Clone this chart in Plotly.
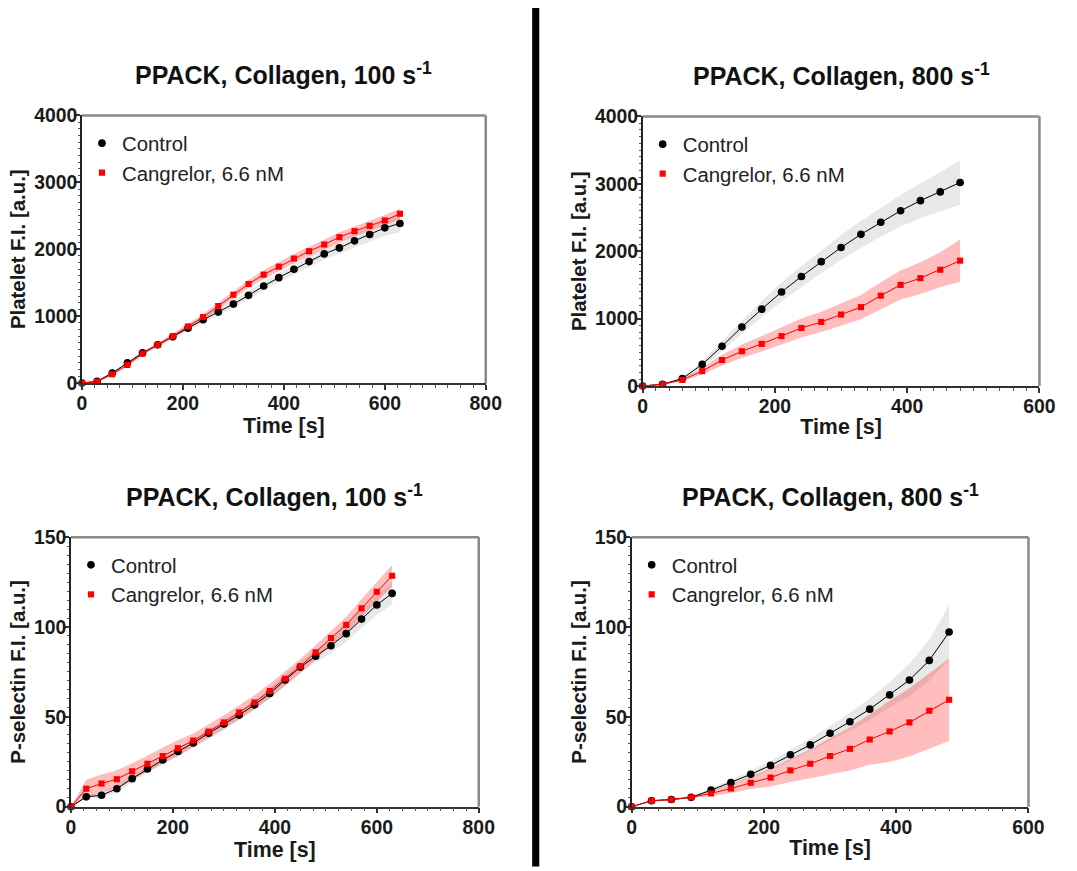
import plotly.graph_objects as go
import numpy as np

# ---------------- data ----------------
t100 = [0, 30, 60, 90, 120, 150, 180, 210, 240, 270, 300, 330, 360, 390, 420, 450, 480, 510, 540, 570, 600, 630]
t800 = [0, 30, 60, 90, 120, 150, 180, 210, 240, 270, 300, 330, 360, 390, 420, 450, 480]

plt100_ctrl = [0, 25, 150, 300, 450, 570, 690, 820, 945, 1060, 1180, 1310, 1450, 1575, 1700, 1815, 1930, 2020, 2125, 2220, 2320, 2385]
plt100_ctrl_sem = [0, 10, 15, 20, 25, 30, 35, 40, 45, 50, 55, 60, 65, 70, 75, 80, 85, 90, 100, 110, 120, 130]
plt100_cang = [0, 20, 130, 270, 440, 570, 700, 845, 985, 1150, 1320, 1480, 1620, 1740, 1860, 1970, 2070, 2180, 2270, 2350, 2430, 2530]
plt100_cang_sem = [0, 10, 15, 20, 25, 30, 35, 40, 45, 50, 55, 60, 65, 70, 70, 70, 70, 75, 75, 75, 80, 80]

plt800_ctrl = [0, 25, 110, 320, 590, 875, 1140, 1395, 1625, 1845, 2055, 2250, 2430, 2600, 2750, 2880, 3020]
plt800_ctrl_sem = [0, 10, 20, 45, 75, 100, 120, 140, 155, 170, 185, 200, 215, 235, 260, 290, 330]
plt800_cang = [0, 25, 90, 220, 385, 515, 625, 740, 860, 950, 1060, 1170, 1340, 1500, 1600, 1725, 1860]
plt800_cang_sem = [0, 10, 20, 50, 80, 100, 115, 130, 140, 150, 165, 180, 200, 215, 235, 260, 315]

ps100_ctrl = [0, 5.5, 6.4, 10, 15.6, 21, 26, 30.7, 35.5, 40.9, 46, 51, 56.7, 63, 70.5, 77.7, 83.7, 89.6, 96.3, 104.4, 112.3, 118.7]
ps100_ctrl_sem = [0, 1, 1.5, 2, 2, 2, 2, 2, 2, 2, 2, 2.5, 2.5, 3, 3, 3, 3.5, 4, 4.5, 5, 5.5, 6]
ps100_cang = [0, 10, 12.9, 15.3, 19.7, 23.9, 28.2, 32.6, 36.8, 41.8, 46.9, 52.5, 58, 64.4, 71.2, 78.2, 85.9, 93.9, 101.2, 110.4, 119.6, 128.5]
ps100_cang_sem = [0, 5, 5, 5, 4.5, 4.5, 4.5, 4.5, 4, 4, 4, 4, 4, 4, 4, 4, 4, 4, 4.5, 5, 5.5, 6]

ps800_ctrl = [0, 3.3, 4, 5.2, 9.2, 13.4, 18, 23, 28.9, 34.4, 40.9, 47.3, 54.3, 62.2, 70.5, 81.4, 97.2]
ps800_ctrl_sem = [0, 0.5, 0.5, 0.7, 1, 1.5, 2, 2.5, 3, 3.5, 4, 5, 6, 7, 9, 11.5, 15]
ps800_cang = [0, 3.3, 4, 5.2, 7.4, 10.1, 13.3, 16.2, 20.2, 23.9, 28.2, 32.2, 37.4, 41.9, 46.9, 53.4, 59.5]
ps800_cang_sem = [0, 0.5, 0.5, 0.7, 1.5, 2.5, 3.5, 5, 6.5, 8, 10, 12, 14, 17, 19, 21, 23]

series_names = ["Control", "Cangrelor, 6.6 nM"]
titles = ["PPACK, Collagen, 100 s<sup>-1</sup>", "PPACK, Collagen, 800 s<sup>-1</sup>",
          "PPACK, Collagen, 100 s<sup>-1</sup>", "PPACK, Collagen, 800 s<sup>-1</sup>"]
y_titles = ["Platelet F.I. [a.u.]", "Platelet F.I. [a.u.]", "P-selectin F.I. [a.u.]", "P-selectin F.I. [a.u.]"]
x_title = "Time [s]"

# ---------------- layout geometry ----------------
W, H = 1077, 871
# the photographed page comes back inset by ~8px and slightly reduced; map target pixels accordingly
OX, OY, SX, SY = 8, 8, 0.981, 0.98
K = 1 / SX  # size compensation for fonts / markers
def px_x(v):
    return ((v - OX) / SX) / W
def px_y(v):
    return 1 - ((v - OY) / SY) / H

panels = [
    dict(t=t100, c=plt100_ctrl, cs=plt100_ctrl_sem, r=plt100_cang, rs=plt100_cang_sem,
         xr=[0, 800], xd=200, xm=25, yr=[0, 4000], yd=1000, ym=100,
         box=(85, 489, 113, 382)),
    dict(t=t800, c=plt800_ctrl, cs=plt800_ctrl_sem, r=plt800_cang, rs=plt800_cang_sem,
         xr=[0, 600], xd=200, xm=20, yr=[0, 4000], yd=1000, ym=100,
         box=(646, 1043, 114, 385)),
    dict(t=t100, c=ps100_ctrl, cs=ps100_ctrl_sem, r=ps100_cang, rs=ps100_cang_sem,
         xr=[0, 800], xd=200, xm=25, yr=[0, 150], yd=50, ym=5,
         box=(74, 482, 537, 808)),
    dict(t=t800, c=ps800_ctrl, cs=ps800_ctrl_sem, r=ps800_cang, rs=ps800_cang_sem,
         xr=[0, 600], xd=200, xm=20, yr=[0, 150], yd=50, ym=5,
         box=(635, 1032, 537, 808)),
]

FONT = "Liberation Sans"
black = "#000000"
red = "#ff0000"
gray_band = "rgba(150,150,150,0.22)"
red_band = "rgba(255,0,0,0.26)"

fig = go.Figure()
layout = dict(width=W, height=H, autosize=False, margin=dict(l=0, r=0, t=0, b=0),
              paper_bgcolor="white", plot_bgcolor="white",
              font=dict(family=FONT, color="#111111"), shapes=[], annotations=[])

for i, p in enumerate(panels):
    n = "" if i == 0 else str(i + 1)
    xa, ya = "x" + n, "y" + n
    leg = "legend" if i == 0 else "legend" + str(i + 1)
    t = np.array(p["t"], dtype=float)
    for vals, sem, col, band in [(p["c"], p["cs"], black, gray_band), (p["r"], p["rs"], red, red_band)]:
        v = np.array(vals, dtype=float)
        s = np.array(sem, dtype=float)
        fig.add_trace(go.Scatter(x=np.concatenate([t, t[::-1]]), y=np.concatenate([v + s, (v - s)[::-1]]),
                                 fill="toself", fillcolor=band, line=dict(width=0), mode="lines",
                                 hoverinfo="skip", showlegend=False, xaxis=xa, yaxis=ya, cliponaxis=False))
    for vals, col, sym, sz, name in [(p["c"], black, "circle", 7.5, series_names[0]),
                                     (p["r"], red, "square", 6, series_names[1])]:
        fig.add_trace(go.Scatter(x=p["t"], y=vals, mode="lines", line=dict(color=col, width=1),
                                 showlegend=False, xaxis=xa, yaxis=ya, cliponaxis=False))
        fig.add_trace(go.Scatter(x=p["t"], y=vals, mode="markers", name=name,
                                 marker=dict(color=col, size=sz * K, symbol=sym),
                                 legend=leg, xaxis=xa, yaxis=ya, cliponaxis=False))
    x0, x1, y0, y1 = p["box"]
    axfont = dict(family=FONT, size=19 * K, color="#1a1a1a", weight="bold")
    layout["xaxis" + n] = dict(domain=[px_x(x0), px_x(x1)], range=p["xr"], dtick=p["xd"], tick0=0,
                               anchor=ya, showgrid=False, zeroline=False, showline=True,
                               linecolor="#333333", linewidth=1.5, ticks="outside", ticklen=5,
                               tickcolor="#333333", tickwidth=1.5, tickfont=axfont, ticklabelstandoff=-3,
                               minor=dict(dtick=p["xm"], ticks="outside", ticklen=3, tickcolor="#555555", tickwidth=1),
                               title=dict(text=x_title, font=dict(family=FONT, size=21 * K, color="#1a1a1a", weight="bold"),
                                          standoff=3))
    layout["yaxis" + n] = dict(domain=[px_y(y1), px_y(y0)], range=p["yr"], dtick=p["yd"], tick0=0,
                               anchor=xa, showgrid=False, zeroline=False, showline=True,
                               linecolor="#222222", linewidth=1.5, ticks="outside", ticklen=4,
                               tickcolor="#333333", tickwidth=1.5, tickfont=axfont, ticklabelstandoff=-5,
                               minor=dict(dtick=p["ym"], ticks="outside", ticklen=2, tickcolor="#555555", tickwidth=1),
                               title=dict(text=y_titles[i], font=dict(family=FONT, size=20 * K, color="#1a1a1a", weight="bold"),
                                          standoff=3))
    # gray top / right frame
    layout["shapes"].append(dict(type="line", xref="paper", yref="paper", x0=px_x(x0), x1=px_x(x1),
                                 y0=px_y(y0), y1=px_y(y0), line=dict(color="#8a8a8a", width=2.5)))
    layout["shapes"].append(dict(type="line", xref="paper", yref="paper", x0=px_x(x1), x1=px_x(x1),
                                 y0=px_y(y0), y1=px_y(y1), line=dict(color="#8a8a8a", width=2.5)))
    layout["annotations"].append(dict(text="<b>" + titles[i] + "</b>", xref="paper", yref="paper",
                                      x=px_x((x0 + x1) / 2), y=px_y(y0 - 42), xanchor="center", yanchor="middle",
                                      showarrow=False, font=dict(family=FONT, size=24.5 * K, color="#111111")))
    layout[leg] = dict(x=px_x(x0), y=px_y(y0 + 8), xanchor="left", yanchor="top",
                       bgcolor="rgba(0,0,0,0)", font=dict(family=FONT, size=20 * K, color="#222222"),
                       itemwidth=30, tracegroupgap=0)

# vertical divider
layout["shapes"].append(dict(type="line", xref="paper", yref="paper", x0=px_x(539), x1=px_x(539),
                             y0=px_y(868), y1=px_y(5), line=dict(color="black", width=7 * K)))

fig.update_layout(**layout)
fig.write_html("out.html")
